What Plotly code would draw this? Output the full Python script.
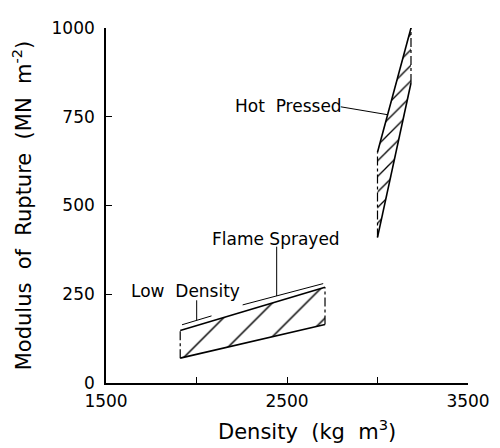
import plotly.graph_objects as go

# ---- data ----
flame_x = [1910, 2710, 2710, 1910]
flame_y = [70, 165, 270, 148]          # bottom-left, bottom-right, top-right, top-left

hot_x = [3000, 3185, 3185, 3000]
hot_y = [410, 845, 1000, 650]          # bottom tip, right kink, top, left kink

x_ticks = [1500, 2000, 2500, 3000, 3500]
x_ticktext = ["1500", "", "2500", "", "3500"]
y_ticks = [0, 250, 500, 750, 1000]

FONT = "DejaVu Sans"
fig = go.Figure()

def region(xs, ys, size, sol):
    fig.add_trace(go.Scatter(
        x=xs + [xs[0]], y=ys + [ys[0]], mode="lines", fill="toself",
        line=dict(width=0, color="rgba(0,0,0,0)"),
        fillcolor="white",
        fillpattern=dict(shape="/", size=size, solidity=sol, fgopacity=1,
                         fgcolor="black", bgcolor="white", fillmode="replace"),
        hoverinfo="skip", showlegend=False))

def edge(xs, ys, dash="solid", width=1.6):
    fig.add_trace(go.Scatter(x=xs, y=ys, mode="lines",
                             line=dict(color="black", width=width, dash=dash),
                             hoverinfo="skip", showlegend=False))

# Flame sprayed / low density region
region(flame_x, flame_y, 24, 0.06)
edge([flame_x[0], flame_x[1]], [flame_y[0], flame_y[1]])
edge([flame_x[3], flame_x[2]], [flame_y[3], flame_y[2]])
edge([flame_x[0], flame_x[3]], [flame_y[0], flame_y[3]], "dashdot", 1.2)
edge([flame_x[1], flame_x[2]], [flame_y[1], flame_y[2]], "dashdot", 1.2)

# Hot pressed region
region(hot_x, hot_y, 11, 0.12)
edge([hot_x[0], hot_x[1]], [hot_y[0], hot_y[1]])
edge([hot_x[3], hot_x[2]], [hot_y[3], hot_y[2]])
edge([hot_x[0], hot_x[3]], [hot_y[0], hot_y[3]], "dashdot", 1.2)
edge([hot_x[1], hot_x[2]], [hot_y[1], hot_y[2]], "dashdot", 1.2)

# leader / bracket lines
shapes = [
    dict(type="line", x0=1920, x1=2083, y0=164, y1=189),   # low density bracket
    dict(type="line", x0=2001, x1=2001, y0=233, y1=177),   # low density leader
    dict(type="line", x0=2255, x1=2700, y0=220, y1=280),   # flame sprayed bracket
    dict(type="line", x0=2443, x1=2443, y0=384, y1=245),   # flame sprayed leader
    dict(type="line", x0=2797, x1=3053, y0=778, y1=756),   # hot pressed leader
]
for s in shapes:
    s.update(xref="x", yref="y", line=dict(color="black", width=1))

annotations = [
    dict(x=1941, y=260, text="Low  Density"),
    dict(x=2437, y=405, text="Flame Sprayed"),
    dict(x=2815, y=781, text="Hot  Pressed", xanchor="right"),
]
for a in annotations:
    a.update(xref="x", yref="y", showarrow=False,
             font=dict(family=FONT, size=17, color="black"))

# x-axis title (placed slightly right of centre, as in the reference)
annotations.append(dict(xref="paper", yref="paper", x=0.555, y=-0.132,
                        yanchor="middle", showarrow=False,
                        text="Density  (kg  m<sup>3</sup>)",
                        font=dict(family=FONT, size=21, color="black")))

# page body has an 8px margin: figure is 492x440 placed at (8,8)
fig.update_layout(
    width=492, height=440,
    margin=dict(l=98, r=27, t=10, b=65),
    paper_bgcolor="white", plot_bgcolor="white",
    font=dict(family=FONT, color="black"),
    shapes=shapes, annotations=annotations,
    xaxis=dict(range=[1500, 3500], tickvals=x_ticks, ticktext=x_ticktext,
               ticks="inside", ticklen=6, tickcolor="black", tickwidth=1.2,
               showline=True, linecolor="black", linewidth=1.6,
               showgrid=False, zeroline=False, ticklabelstandoff=2,
               ticklabeloverflow="allow",
               tickfont=dict(size=17, family=FONT)),
    yaxis=dict(range=[0, 1000], tickvals=y_ticks,
               ticks="inside", ticklen=6, tickcolor="black", tickwidth=1.2,
               showline=True, linecolor="black", linewidth=1.6,
               showgrid=False, zeroline=False, ticklabelstandoff=6,
               ticklabeloverflow="allow",
               tickfont=dict(size=17, family=FONT),
               title=dict(text="Modulus  of  Rupture  (MN  m<sup>-2</sup>)",
                          font=dict(size=21, family=FONT), standoff=15)),
)

fig.write_html("out.html")
